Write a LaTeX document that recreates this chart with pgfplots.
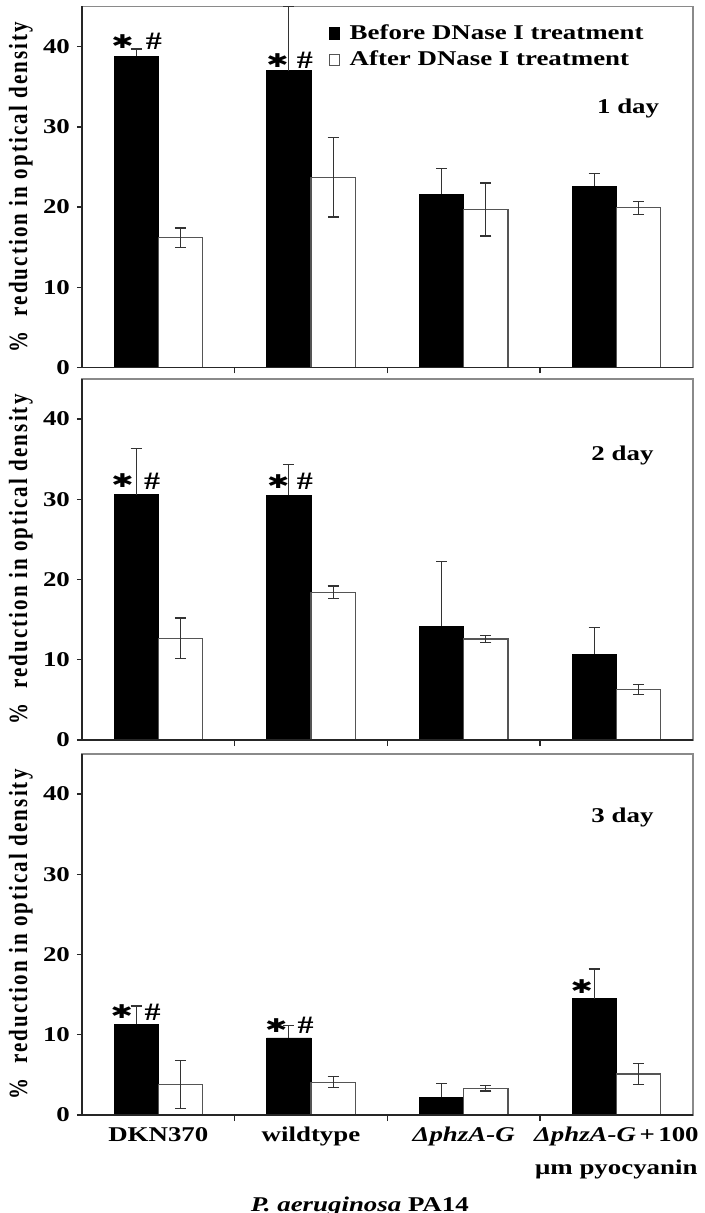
\documentclass[border=0pt]{standalone}
\usepackage{graphicx}
\usepackage{pgfplots}
\pgfplotsset{compat=1.18}
\usepackage{pgfplotstable}
\usepackage{fontspec}
\setmainfont{Liberation Serif}
\newfontfamily\wide{Liberation Serif}[FakeStretch=1.28]
\newfontfamily\spaced{Liberation Serif}[LetterSpace=10]
\newfontfamily\djsans{DejaVu Sans}
\definecolor{framegray}{HTML}{8A8A8A}
\definecolor{errgray}{HTML}{333333}
\definecolor{edgegray}{HTML}{555555}
\newcommand{\txt}{\wide\bfseries\fontsize{10.5}{12}\selectfont}
\newcommand{\st}{{\djsans\bfseries\fontsize{9.5}{10}\selectfont\scalebox{1.4}[1]{✱}}}
\newcommand{\hs}{{\wide\bfseries\fontsize{12.5}{13}\selectfont\#}}

% x  before  errb  after  erra
\pgfplotstableread{
x b eb a ea
0 38.8 0.9 16.2 1.2
1 37.0 8.0 23.7 4.95
2 21.6 3.2 19.7 3.3
3 22.6 1.6 19.9 0.8
}\dayone
\pgfplotstableread{
x b eb a ea
0 30.6 5.7 12.7 2.5
1 30.5 3.8 18.4 0.8
2 14.2 8.1 12.6 0.4
3 10.7 3.3 6.3 0.6
}\daytwo
\pgfplotstableread{
x b eb a ea
0 11.3 2.3 3.8 3.0
1 9.6 1.6 4.1 0.7
2 2.2 1.75 3.35 0.35
3 14.5 3.7 5.1 1.3
}\daythree

\pgfplotsset{panel/.style={
  width=305.35pt, height=180.5pt, scale only axis,
  xmin=-0.5, xmax=3.5, ymin=0, ymax=45,
  ytick={0,10,20,30,40},
  xtick={0,1,2,3},
  minor xtick={0.5,1.5,2.5},
  major x tick style={draw=none},
  tick align=outside, tick pos=left,
  major tick length=2.5pt, minor tick length=3pt,
  ybar=0pt, bar width=0.29,
  axis line style={draw=framegray, line width=0.8pt},
  tick style={draw=black!85, line width=0.7pt},
  /pgf/number format/assume math mode=true,
  yticklabel style={font=\txt},
  ylabel={\scalebox{1}[1.25]{\spaced\bfseries\fontsize{10.5}{12}\selectfont\%\ \ reduction in optical density}},
  ylabel style={at={(axis description cs:-0.1,0.5)}, anchor=center},
  clip mode=individual,
  error bars/error bar style={errgray, line width=0.6pt},
  error bars/error mark options={rotate=90, mark size=2.75pt, errgray, line width=0.6pt},
}}
\newcommand{\darklines}{\draw[black!85, line width=0.8pt] (rel axis cs:0,1) -- (rel axis cs:0,0) -- (rel axis cs:1,0);}

\begin{document}
\begin{tikzpicture}
% ---------- 1 day ----------
\begin{axis}[panel, at={(0pt,0pt)}, anchor=south west, xticklabels={},
  legend style={at={(rel axis cs:0.403,0.96)}, anchor=north west, draw=none, fill=none,
    font=\txt, row sep=1.5pt, inner sep=0pt, nodes={inner sep=1.5pt},
    /tikz/every odd column/.append style={column sep=3.5pt}},
  legend cell align=left]
\addplot[fill=black, draw=black, error bars/.cd, y dir=plus, y explicit,
  /pgfplots/legend image code/.code={\draw[fill=black,draw=black] (0pt,-2.9pt) rectangle (5pt,2.9pt);}]
  table[x=x, y=b, y error=eb] {\dayone};
\addplot[fill=white, draw=edgegray, line width=0.6pt, error bars/.cd, y dir=both, y explicit,
  /pgfplots/legend image code/.code={\draw[fill=white,draw=edgegray,line width=0.6pt] (0pt,-2.9pt) rectangle (5pt,2.9pt);}]
  table[x=x, y=a, y error=ea] {\dayone};
\legend{Before DNase I treatment, After DNase I treatment}
\darklines
\node[font=\txt, anchor=base] at (axis cs:3.077,31.6) {1 day};
\node at (axis cs:-0.235,40.6) {\st};
\node at (axis cs:-0.03,40.6) {\hs};
\node at (axis cs:0.78,38.3) {\st};
\node at (axis cs:0.96,38.3) {\hs};
\end{axis}
% ---------- 2 day ----------
\begin{axis}[panel, at={(0pt,-186.25pt)}, anchor=south west, xticklabels={}]
\addplot[fill=black, draw=black, error bars/.cd, y dir=plus, y explicit]
  table[x=x, y=b, y error=eb] {\daytwo};
\addplot[fill=white, draw=edgegray, line width=0.6pt, error bars/.cd, y dir=both, y explicit]
  table[x=x, y=a, y error=ea] {\daytwo};
\darklines
\node[font=\txt, anchor=base] at (axis cs:3.04,34.8) {2 day};
\node at (axis cs:-0.235,32.3) {\st};
\node at (axis cs:-0.04,32.3) {\hs};
\node at (axis cs:0.785,32.2) {\st};
\node at (axis cs:0.96,32.2) {\hs};
\end{axis}
% ---------- 3 day ----------
\begin{axis}[panel, at={(0pt,-373.75pt)}, anchor=south west,
  xticklabels={DKN370, wildtype, {\itshape ΔphzA-G}, {{\itshape ΔphzA-G}\,+\,100\\μm pyocyanin}},
  xticklabel style={font=\wide\bfseries\fontsize{10.5}{16.5}\selectfont, align=center},
  xlabel={{\itshape P. aeruginosa} PA14},
  xlabel style={font=\txt, at={(axis description cs:0.455,0)}, anchor=base, yshift=-48pt}]
\addplot[fill=black, draw=black, error bars/.cd, y dir=plus, y explicit]
  table[x=x, y=b, y error=eb] {\daythree};
\addplot[fill=white, draw=edgegray, line width=0.6pt, error bars/.cd, y dir=both, y explicit]
  table[x=x, y=a, y error=ea] {\daythree};
\darklines
\node[font=\txt, anchor=base] at (axis cs:3.04,36.5) {3 day};
\node at (axis cs:-0.24,12.85) {\st};
\node at (axis cs:-0.037,12.85) {\hs};
\node at (axis cs:0.772,11.2) {\st};
\node at (axis cs:0.965,11.2) {\hs};
\node at (axis cs:2.773,16.0) {\st};
\end{axis}
\pgfresetboundingbox
\path (-41pt,-422.75pt) rectangle (311.5pt,183.75pt);
\end{tikzpicture}
\end{document}
